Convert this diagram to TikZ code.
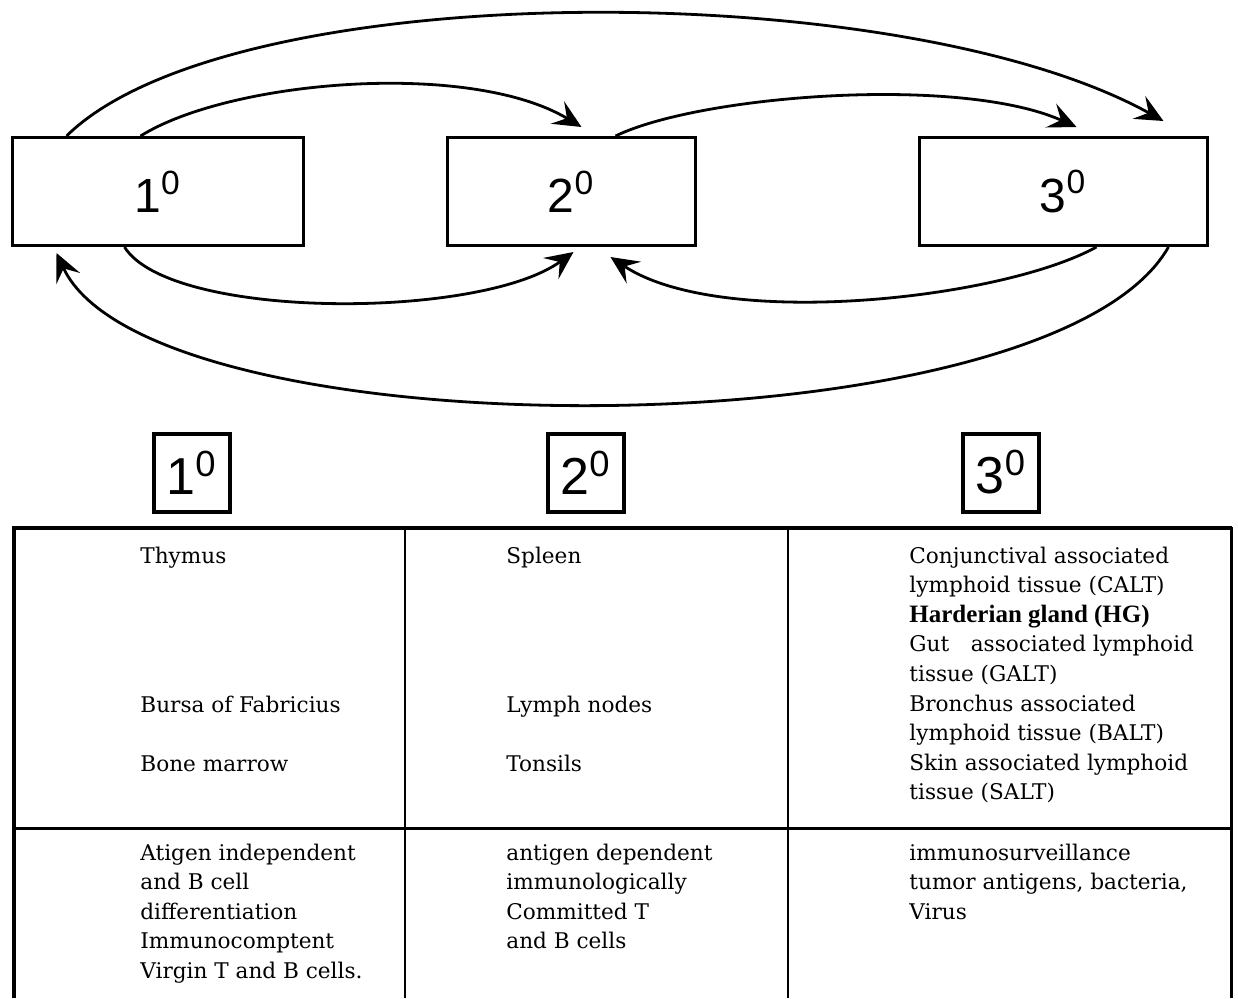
\documentclass[tikz,border=0pt]{standalone}
\usepackage{fontspec}
\setmainfont{DejaVu Serif}
\newfontfamily\labelfont{Liberation Sans}
\newfontfamily\boldfont{Liberation Serif}
\usetikzlibrary{arrows,arrows.meta,positioning,shapes}
\tikzset{
    %Define standard arrow tip
    >={Stealth[length=14pt,width=13pt,inset=5.5pt]},
    %Define style for boxes
    box/.style={
           rectangle,
           draw=black, line width=1.5pt,
           minimum height=54pt,
           inner sep=0pt,
           font=\labelfont\fontsize{24}{24}\selectfont},
    tag/.style={
           rectangle,
           draw=black, line width=2pt,
           minimum width=38pt,
           minimum height=39pt,
           inner sep=0pt,
           font=\labelfont\fontsize{26}{26}\selectfont},
    cell/.style={
           anchor=north west,
           align=left,
           inner sep=0pt,
           execute at begin node=\strut,
           font=\fontsize{10.8}{14.8}\selectfont},
    % Define arrow style
    arr/.style={
           ->,
           line width=1.4pt},
    rule/.style={
           line width=1.2pt}
}
\begin{document}
\begin{tikzpicture}[x=0.5pt,y=-0.5pt]
  \useasboundingbox (0,0) rectangle (1238,998);
  \node[box, minimum width=145.5pt] (primary) at (157.5,191.5) {1\textsuperscript{0}};
  \node[box, minimum width=124pt, right=70.5pt of primary] (secondary) {2\textsuperscript{0}};
  \node[box, minimum width=144pt, right=110.5pt of secondary] (tertiary) {3\textsuperscript{0}};

  \draw[arr] ([xshift=28pt]primary.north west)
    .. controls (230,-25) and (900,-25) ..
      ([xshift=123pt,yshift=7.5pt]tertiary.north west);
  \draw[arr] ([xshift=65pt]primary.north west)
    .. controls (230,80) and (470,60) ..
      ([xshift=68pt,yshift=4.5pt]secondary.north west);
  \draw[arr] ([xshift=85pt]secondary.north west)
    .. controls (700,95) and (960,75) ..
      ([xshift=79.5pt,yshift=4.5pt]tertiary.north west);
  \draw[arr] ([xshift=57pt]primary.south west)
    .. controls (170,320) and (480,320) ..
      ([xshift=64pt,yshift=-2.5pt]secondary.south west);
  \draw[arr] ([xshift=89.5pt]tertiary.south west)
    .. controls (1000,300) and (720,330) ..
      ([xshift=82.5pt,yshift=-5pt]secondary.south west);
  \draw[arr] ([xshift=125.5pt]tertiary.south west)
    .. controls (1050,455) and (150,455) ..
      ([xshift=23pt,yshift=-3pt]primary.south west);

  \node[tag] (primary-tag) at (191.5,472.5) {1\textsuperscript{0}};
  \node[tag] (secondary-tag) at (585.5,472.5) {2\textsuperscript{0}};
  \node[tag] (tertiary-tag) at (1001,472.5) {3\textsuperscript{0}};

  % table
  \draw[line width=2pt] (12,528) -- (1232,528);
  \draw[line width=2pt] (14,527) -- (14,998);
  \draw[line width=1.5pt] (1231,527) -- (1231,998);
  \draw[rule] (405,528) -- (405,998);
  \draw[rule] (788,528) -- (788,998);
  \draw[line width=1.5pt] (14,828) -- (1231,828);

  \node[cell] (thymus) at (140,542.3) {Thymus};
  \node[cell] (bursa) at (140,691.3) {Bursa of Fabricius};
  \node[cell] (marrow) at (140,750.3) {Bone marrow};
  \node[cell] (spleen) at (506,542.3) {Spleen};
  \node[cell] (lymph-nodes) at (506,691.3) {Lymph nodes};
  \node[cell] (tonsils) at (506,750.3) {Tonsils};
  \node[cell] (tertiary-organs) at (909,546.3) {Conjunctival associated\\lymphoid tissue (CALT)\\
    {\boldfont\bfseries\fontsize{12.5}{14.8}\selectfont Harderian gland (HG)}\\
    Gut\quad associated lymphoid\\tissue (GALT)\\Bronchus associated\\
    lymphoid tissue (BALT)\\Skin associated lymphoid\\tissue (SALT)};

  \node[cell] (primary-role) at (140,843.3) {Atigen independent\\and B cell\\differentiation\\
    Immunocomptent\\Virgin T and B cells.};
  \node[cell] (secondary-role) at (506,843.3) {antigen dependent\\immunologically\\
    Committed T\\and B cells};
  \node[cell] (tertiary-role) at (909,843.3) {immunosurveillance\\tumor antigens, bacteria,\\Virus};
\end{tikzpicture}
\end{document}
